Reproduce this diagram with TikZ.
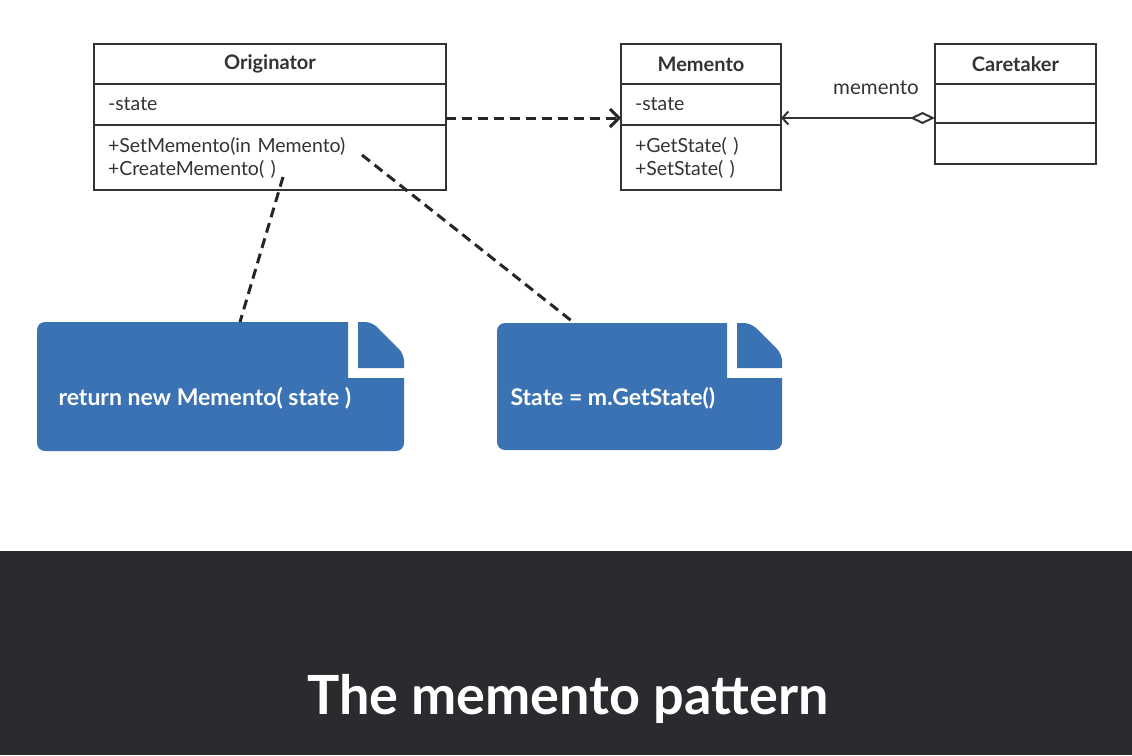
\documentclass[tikz,border=0pt]{standalone}
\usepackage{fontspec}
\setmainfont{Lato}
\usetikzlibrary{arrows.meta,positioning}

\definecolor{ink}{HTML}{333333}
\definecolor{noteblue}{HTML}{3A72B3}
\definecolor{band}{HTML}{2A2B2F}

\begin{document}
\begin{tikzpicture}[x=1pt,y=-1pt,
	head/.style={draw=ink,line width=2pt,inner sep=0pt,outer sep=0pt,minimum height=40pt,text=ink,font=\fontsize{20}{22}\selectfont\bfseries},
	slot/.style={draw=ink,line width=2pt,inner xsep=14pt,inner ysep=0pt,outer sep=0pt,align=left,text=ink,font=\fontsize{19.5}{23}\selectfont},
	tie/.style={draw=black!85,line width=3pt,dash pattern=on 10pt off 6pt},
	notetext/.style={anchor=west,text=white,font=\fontsize{23}{26}\selectfont\bfseries},
	fold/.style={fill=noteblue,rounded corners=7pt}]
	\useasboundingbox (0,0) rectangle (1132,755);
	\node[head,minimum width=352pt] (orig) at (270,64) {Originator};
	\node[slot,text width=324pt,minimum height=41pt,below=0pt of orig] (orig attr) {-state};
	\node[slot,text width=324pt,minimum height=65pt,below=0pt of orig attr] (orig ops) {+SetMemento(in Memento)\\+CreateMemento( )};
	\node[head,minimum width=160pt] (mem) at (701,64) {Memento};
	\node[slot,text width=132pt,minimum height=41pt,below=0pt of mem] (mem attr) {-state};
	\node[slot,text width=132pt,minimum height=65pt,below=0pt of mem attr] (mem ops) {+GetState( )\\+SetState( )};
	\node[head,minimum width=161pt] (care) at (1015.5,64) {Caretaker};
	\node[slot,text width=133pt,minimum height=39pt,below=0pt of care] (care attr) {};
	\node[slot,text width=133pt,minimum height=41pt,below=0pt of care attr] (care ops) {};
	\node[text=ink,font=\fontsize{20.5}{22}\selectfont] (role) at (876,88) {memento};
	\draw[tie,-{Straight Barb[length=9pt,width=18pt,line width=3pt]}] ([yshift=7pt]orig attr.south east) -- ([yshift=7pt]mem attr.south west);
	\draw[ink,line width=2pt,{Diamond[open,length=25pt,width=12pt,line width=2pt]}-{Straight Barb[length=6pt,width=13pt,line width=2pt]}] ([yshift=5pt]care attr.south west) -- ([yshift=7pt]mem attr.south east);
	\fill[noteblue] (37,386) [rounded corners=8pt] -- (37,322) [sharp corners] -- (348,322) -- (348,378) -- (404,378) [rounded corners=8pt] -- (404,451) -- (37,451) [sharp corners] -- cycle;
	\fill[fold] (358,368) [sharp corners] -- (358,322) [rounded corners=7pt] -- (372,322) -- (404,354) [sharp corners] -- (404,368) -- cycle;
	\fill[noteblue] (497,386) [rounded corners=8pt] -- (497,323) [sharp corners] -- (727,323) -- (727,378) -- (782,378) [rounded corners=8pt] -- (782,450) -- (497,450) [sharp corners] -- cycle;
	\fill[fold] (737,368) [sharp corners] -- (737,323) [rounded corners=7pt] -- (751,323) -- (782,354) [sharp corners] -- (782,368) -- cycle;
	\node[notetext] (ret) at (55,398) {return new Memento( state )};
	\node[notetext] (get) at (507,398) {State = m.GetState()};
	\coordinate (create) at (283,177);
	\coordinate (setm) at (362,155);
	\coordinate (ret top) at (240,322);
	\coordinate (get top) at (573,322);
	\draw[tie] (create) -- (ret top);
	\draw[tie] (setm) -- (get top);
	\fill[band] (0,551) rectangle (1132,755);
	\node[text=white,font=\fontsize{54}{60}\selectfont\bfseries] (caption) at (568,699) {The memento pattern};
\end{tikzpicture}
\end{document}
